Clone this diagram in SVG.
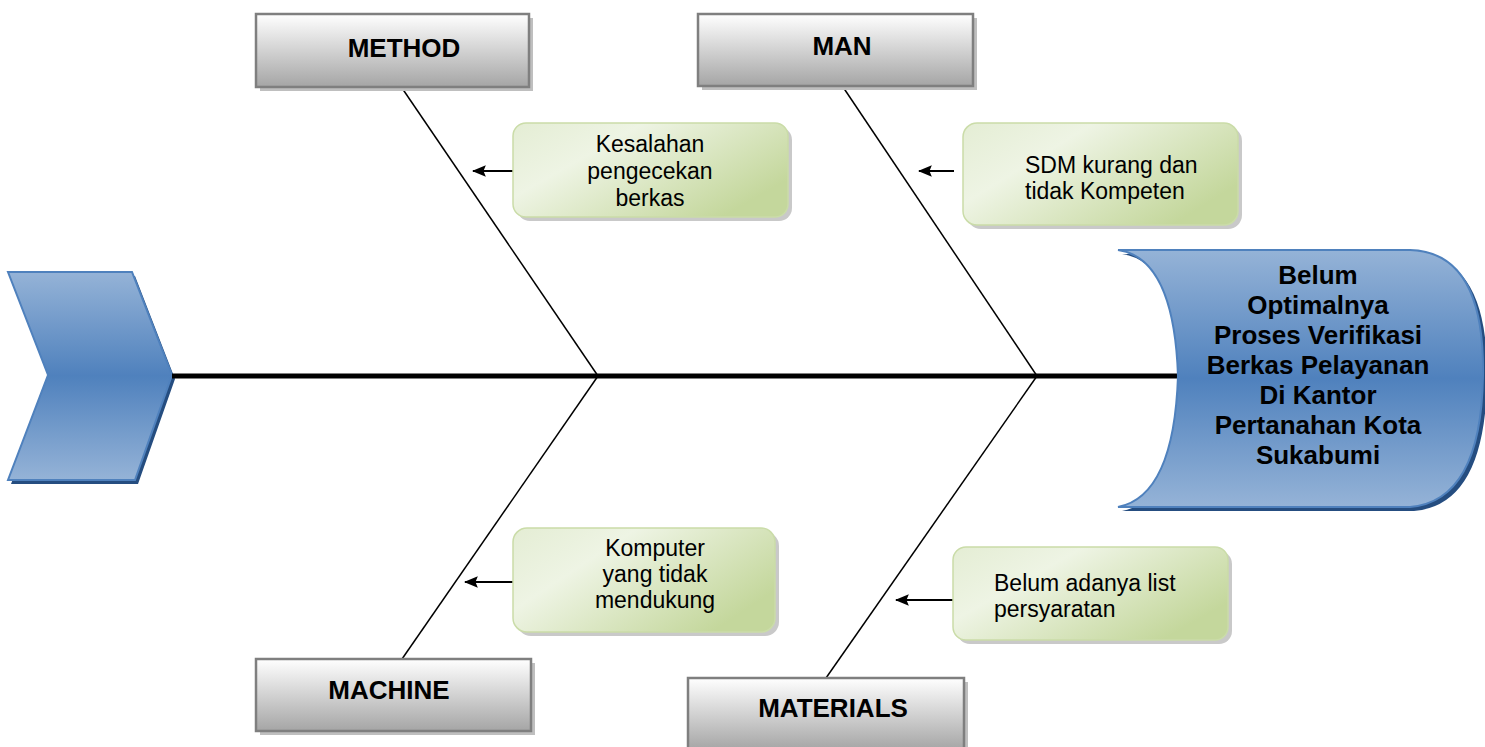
<svg xmlns="http://www.w3.org/2000/svg" width="1485" height="747" viewBox="0 0 1485 747">
<defs>
<linearGradient id="gray" x1="0" y1="0" x2="0" y2="1">
<stop offset="0" stop-color="#ffffff"/>
<stop offset="1" stop-color="#a5a5a5"/>
</linearGradient>
<linearGradient id="green" x1="0" y1="0" x2="1" y2="0.6">
<stop offset="0" stop-color="#e4edd4"/>
<stop offset="0.35" stop-color="#eef4e4"/>
<stop offset="1" stop-color="#c4d79c"/>
</linearGradient>
<linearGradient id="blue" x1="0" y1="0" x2="0" y2="1">
<stop offset="0" stop-color="#95b3d7"/>
<stop offset="0.5" stop-color="#4f81bd"/>
<stop offset="1" stop-color="#95b3d7"/>
</linearGradient>
<marker id="arr" viewBox="0 0 12 10" refX="11" refY="5" markerWidth="14" markerHeight="12" orient="auto-start-reverse" markerUnits="userSpaceOnUse">
<path d="M0,0 L12,5 L0,10 L2,5 z" fill="#000"/>
</marker>
<style>
.cat rect.b{fill:url(#gray);stroke:#7f7f7f;stroke-width:2.5}
.cat rect.s{fill:#bfbfbf}
.cat text{font-family:"Liberation Sans",Arial,sans-serif;font-weight:bold;font-size:26px;text-anchor:middle;fill:#000}
.cause rect.b{fill:url(#green);stroke:#cadca8;stroke-width:1.5}
.cause rect.s{fill:#c9c9c9}
.cause text{font-family:"Liberation Sans",Arial,sans-serif;font-size:23px;fill:#000}
.mid{text-anchor:middle}
.bone{stroke:#000;stroke-width:1.5;fill:none}
.arrow{stroke:#000;stroke-width:2;fill:none;marker-end:url(#arr)}
.head text{font-family:"Liberation Sans",Arial,sans-serif;font-weight:bold;font-size:26px;text-anchor:middle;fill:#000}
</style>
</defs>
<rect width="1485" height="747" fill="#fff"/>

<g id="tail">
<path d="M11,276 L135,276 L175,379 L138,484 L11,484 L51,379 Z" fill="#254d80"/>
<path d="M8,272 L132,272 L172,375 L135,480 L8,480 L48,375 Z" fill="url(#blue)" stroke="#4f81bd" stroke-width="2"/>
</g>

<g id="connectors">
<line x1="172" y1="376" x2="1180" y2="376" stroke="#000" stroke-width="5"/>
<line class="bone" x1="402" y1="88" x2="598" y2="376"/>
<line class="bone" x1="598" y1="376" x2="402" y2="659"/>
<line class="bone" x1="843" y1="87" x2="1037" y2="376"/>
<line class="bone" x1="1037" y1="376" x2="826" y2="678"/>
<line class="arrow" x1="514" y1="171" x2="473" y2="171"/>
<line class="arrow" x1="954" y1="171" x2="919" y2="171"/>
<line class="arrow" x1="514" y1="582" x2="465" y2="582"/>
<line class="arrow" x1="954" y1="600" x2="896" y2="600"/>
</g>

<g id="head" class="head">
<path d="M1122,254 L1414,254 Q1489,256 1487,380 Q1485,505 1414,511 L1122,511 Q1178,500 1182,380 Q1178,262 1122,254 Z" fill="#254d80"/>
<path d="M1118,250 L1410,250 Q1485,252 1483,376 Q1481,501 1410,507 L1118,507 Q1174,496 1178,376 Q1174,258 1118,250 Z" fill="url(#blue)" stroke="#4f81bd" stroke-width="2"/>
<text x="1318" y="284">Belum</text>
<text x="1318" y="314">Optimalnya</text>
<text x="1318" y="344">Proses Verifikasi</text>
<text x="1318" y="374">Berkas Pelayanan</text>
<text x="1318" y="404">Di Kantor</text>
<text x="1318" y="434">Pertanahan Kota</text>
<text x="1318" y="464">Sukabumi</text>
</g>

<g id="method" class="cat">
<rect class="s" x="260" y="18" width="273" height="73"/>
<rect class="b" x="256" y="14" width="273" height="73"/>
<text x="404" y="57">METHOD</text>
</g>
<g id="man" class="cat">
<rect class="s" x="702" y="18" width="275" height="72"/>
<rect class="b" x="698" y="14" width="275" height="72"/>
<text x="842" y="55">MAN</text>
</g>
<g id="machine" class="cat">
<rect class="s" x="260" y="663" width="275" height="72"/>
<rect class="b" x="256" y="659" width="275" height="72"/>
<text x="389" y="699">MACHINE</text>
</g>
<g id="materials" class="cat">
<rect class="s" x="692" y="682" width="276" height="72"/>
<rect class="b" x="688" y="678" width="276" height="72"/>
<text x="833" y="717">MATERIALS</text>
</g>

<g id="cause-method" class="cause">
<rect class="s" x="517" y="127" width="275" height="94" rx="13"/>
<rect class="b" x="513" y="123" width="275" height="94" rx="13"/>
<text class="mid" x="650" y="152">Kesalahan</text>
<text class="mid" x="650" y="179">pengecekan</text>
<text class="mid" x="650" y="206">berkas</text>
</g>
<g id="cause-man" class="cause">
<rect class="s" x="967" y="127" width="275" height="102" rx="14"/>
<rect class="b" x="963" y="123" width="275" height="102" rx="14"/>
<text x="1025" y="173">SDM kurang dan</text>
<text x="1025" y="199">tidak Kompeten</text>
</g>
<g id="cause-machine" class="cause">
<rect class="s" x="517" y="532" width="262" height="104" rx="14"/>
<rect class="b" x="513" y="528" width="262" height="104" rx="14"/>
<text class="mid" x="655" y="556">Komputer</text>
<text class="mid" x="655" y="582">yang tidak</text>
<text class="mid" x="655" y="608">mendukung</text>
</g>
<g id="cause-materials" class="cause">
<rect class="s" x="957" y="551" width="275" height="93" rx="13"/>
<rect class="b" x="953" y="547" width="275" height="93" rx="13"/>
<text x="994" y="591">Belum adanya list</text>
<text x="994" y="617">persyaratan</text>
</g>
</svg>
